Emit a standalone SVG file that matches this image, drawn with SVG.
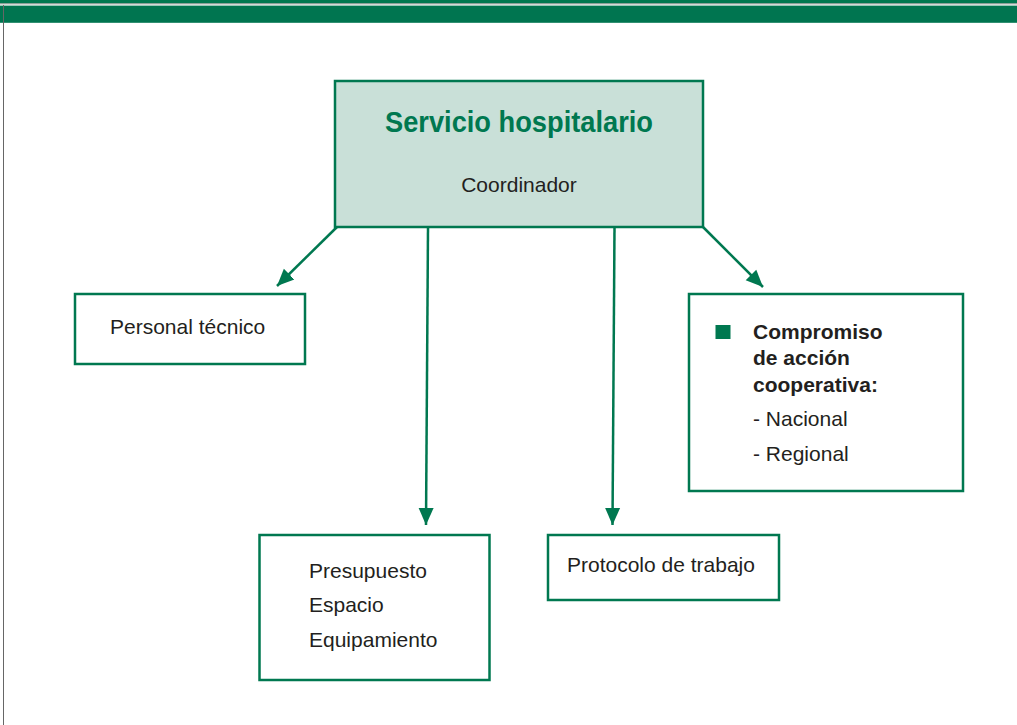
<svg xmlns="http://www.w3.org/2000/svg" width="1017" height="725" viewBox="0 0 1017 725">
  <defs>
    <marker id="arr" markerUnits="userSpaceOnUse" markerWidth="18" markerHeight="18" viewBox="0 0 18 18" refX="17" refY="9" orient="auto">
      <path d="M0,1.5 L17,9 L0,16.5 Z" fill="#007850"/>
    </marker>
  </defs>
  <style>
    .box { fill: #ffffff; stroke: #007850; stroke-width: 2.5; }
    .main { fill: #c9e0d8; stroke: #007850; stroke-width: 2.5; }
    .txt { font-family: "Liberation Sans", Arial, sans-serif; font-size: 21px; fill: #231f20; }
    .bold { font-weight: bold; }
    .title { font-family: "Liberation Sans", Arial, sans-serif; font-weight: bold; font-size: 30px; fill: #007850; }
    .conn { stroke: #007850; stroke-width: 2.5; fill: none; marker-end: url(#arr); }
  </style>
  <rect x="0" y="0" width="1017" height="725" fill="#ffffff"/>
  <!-- header bands -->
  <rect x="0" y="0" width="1017" height="3.3" fill="#007850"/>
  <rect x="0" y="3.4" width="1017" height="0.9" fill="#6f7f78"/>
  <rect x="0" y="5.6" width="1017" height="17.2" fill="#007550"/>
  <line x1="3.5" y1="5" x2="3.5" y2="725" stroke="#666" stroke-width="1"/>

  <g id="connectors">
    <line class="conn" x1="337" y1="227" x2="277" y2="286"/>
    <line class="conn" x1="428" y1="228" x2="426" y2="525"/>
    <line class="conn" x1="614.5" y1="228" x2="612.5" y2="525"/>
    <line class="conn" x1="703" y1="227" x2="763" y2="287"/>
  </g>

  <g id="servicio">
    <rect class="main" x="335" y="81" width="368" height="146"/>
    <text class="title" x="519" y="132" text-anchor="middle" textLength="268" lengthAdjust="spacingAndGlyphs">Servicio hospitalario</text>
    <text class="txt" x="519" y="192" text-anchor="middle">Coordinador</text>
  </g>

  <g id="personal">
    <rect class="box" x="75" y="294" width="230" height="70"/>
    <text class="txt" x="110" y="334">Personal técnico</text>
  </g>

  <g id="compromiso">
    <rect class="box" x="689" y="294" width="274" height="197"/>
    <rect x="715.5" y="325" width="15" height="14" fill="#007850"/>
    <text class="txt bold" x="753" y="339">Compromiso</text>
    <text class="txt bold" x="753" y="365">de acción</text>
    <text class="txt bold" x="753" y="392">cooperativa:</text>
    <text class="txt" x="753" y="426">- Nacional</text>
    <text class="txt" x="753" y="461">- Regional</text>
  </g>

  <g id="presupuesto">
    <rect class="box" x="259.5" y="535" width="230" height="145"/>
    <text class="txt" x="309" y="578">Presupuesto</text>
    <text class="txt" x="309" y="612">Espacio</text>
    <text class="txt" x="309" y="647">Equipamiento</text>
  </g>

  <g id="protocolo">
    <rect class="box" x="548" y="535" width="231" height="65"/>
    <text class="txt" x="567" y="572">Protocolo de trabajo</text>
  </g>
</svg>
